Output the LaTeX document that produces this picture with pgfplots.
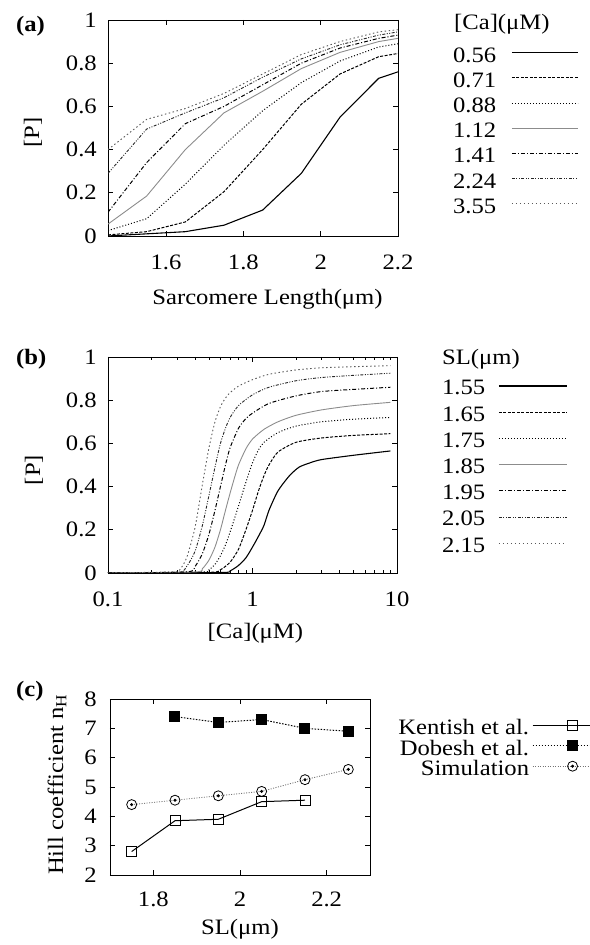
\documentclass[border=0pt]{standalone}
\usepackage{fontspec}
\setmainfont{Liberation Serif}[FakeStretch=1.12]
\usepackage{pgfplots}
\pgfplotsset{compat=1.18}
\pgfdeclareplotmark{odot}{%
  \pgfpathcircle{\pgfpointorigin}{\pgfplotmarksize}\pgfusepathqstroke
  \pgfpathcircle{\pgfpointorigin}{0.22\pgfplotmarksize}\pgfusepathqfillstroke}
\tikzset{
  s1/.style={black, line width=1.1pt},
  s2/.style={black, line width=1pt, dash pattern=on 3pt off 1.5pt},
  s3/.style={black, line width=1pt, dash pattern=on 1pt off 2pt},
  s4/.style={black!45, line width=0.9pt},
  s5/.style={black, line width=1pt, dash pattern=on 4pt off 2pt on 1pt off 2pt},
  s6/.style={black!85, line width=0.9pt, dash pattern=on 3pt off 1.5pt on 1pt off 1.5pt on 1pt off 1.5pt},
  s7/.style={black!65, line width=0.9pt, dash pattern=on 1.5pt off 2.5pt},
}
\newcommand{\fs}{\fontsize{22}{25}\selectfont}
\pgfplotsset{
  myax/.style={scale only axis, clip=true,
    axis line style={black, line width=0.8pt},
    tick style={black, line width=0.7pt},
    major tick length=5pt, minor tick length=3pt, tick align=inside,
    font=\fs, /pgf/number format/assume math mode=true,
    xticklabel style={inner sep=0pt, yshift=-19pt},
    yticklabel style={inner sep=0pt, xshift=-11pt},
    xlabel style={anchor=center},
    ylabel style={anchor=center},
  },
}
\begin{document}
\begin{tikzpicture}[x=1pt,y=1pt]
\useasboundingbox (0,0) rectangle (589,945);
% ---------- (a)
\begin{axis}[myax, at={(108pt,709pt)}, anchor=south west, width=290pt, height=216pt,
  xmin=1.45, xmax=2.2, ymin=0, ymax=1,
  xtick={1.6,1.8,2,2.2}, xticklabels={1.6,1.8,2,2.2},
  ytick={0,0.2,0.4,0.6,0.8,1}, yticklabels={0,0.2,0.4,0.6,0.8,1},
  xlabel={Sarcomere Length(μm)}, ylabel={[P]},
  xlabel style={at={(axis description cs:0.55,0)}, yshift=-63pt},
  ylabel style={at={(axis description cs:-0.259,0.48)}},
  legend style={at={(rel axis cs:1.19,0.884)}, anchor=north west, draw=none, fill=none,
    inner sep=0pt, outer sep=0pt, row sep=0pt, column sep=15pt, font=\fs,
    nodes={inner sep=0pt, outer sep=0pt, text height=17pt, text depth=8.2pt}},
  legend cell align=left, legend plot pos=right,
  legend image code/.code={\draw[#1] (0pt,5pt) -- (66pt,5pt);},
]
\addplot[s1] coordinates {(1.45,0.0) (1.55,0.01) (1.65,0.02) (1.75,0.05) (1.85,0.12) (1.95,0.29) (2.05,0.55) (2.15,0.73) (2.2,0.76)};
\addlegendentry{0.56}
\addplot[s2] coordinates {(1.45,0.005) (1.55,0.02) (1.65,0.065) (1.75,0.205) (1.85,0.40) (1.95,0.61) (2.05,0.75) (2.15,0.83) (2.2,0.845)};
\addlegendentry{0.71}
\addplot[s3] coordinates {(1.45,0.025) (1.55,0.08) (1.65,0.24) (1.75,0.42) (1.85,0.58) (1.95,0.71) (2.05,0.81) (2.15,0.875) (2.2,0.89)};
\addlegendentry{0.88}
\addplot[s4] coordinates {(1.45,0.055) (1.55,0.185) (1.65,0.40) (1.75,0.57) (1.85,0.67) (1.95,0.775) (2.05,0.85) (2.15,0.90) (2.2,0.915)};
\addlegendentry{1.12}
\addplot[s5] coordinates {(1.45,0.11) (1.55,0.34) (1.65,0.52) (1.75,0.60) (1.85,0.70) (1.95,0.80) (2.05,0.87) (2.15,0.915) (2.2,0.93)};
\addlegendentry{1.41}
\addplot[s6] coordinates {(1.45,0.29) (1.55,0.495) (1.65,0.57) (1.75,0.64) (1.85,0.735) (1.95,0.82) (2.05,0.885) (2.15,0.93) (2.2,0.945)};
\addlegendentry{2.24}
\addplot[s7] coordinates {(1.45,0.40) (1.55,0.54) (1.65,0.59) (1.75,0.66) (1.85,0.75) (1.95,0.84) (2.05,0.90) (2.15,0.945) (2.2,0.955)};
\addlegendentry{3.55}
\end{axis}
% ---------- (b)
\begin{axis}[myax, at={(108pt,372pt)}, anchor=south west, width=289pt, height=216pt,
  xmode=log, xmin=0.1, xmax=10, ymin=0, ymax=1,
  xtick={0.1,1,10}, xticklabels={0.1,1,10},
  ytick={0,0.2,0.4,0.6,0.8,1}, yticklabels={0,0.2,0.4,0.6,0.8,1},
  xlabel={[Ca](μM)}, ylabel={[P]},
  xlabel style={at={(axis description cs:0.51,0)}, yshift=-60pt},
  ylabel style={at={(axis description cs:-0.256,0.477)}},
  legend style={at={(rel axis cs:1.156,0.903)}, anchor=north west, draw=none, fill=none,
    inner sep=0pt, outer sep=0pt, row sep=0pt, column sep=13pt, font=\fs,
    nodes={inner sep=0pt, outer sep=0pt, text height=17pt, text depth=9.2pt}},
  legend cell align=left, legend plot pos=right,
  legend image code/.code={\draw[#1] (0pt,5pt) -- (68pt,5pt);},
]
\addplot[s1, smooth, tension=0.4] coordinates {(0.1,0) (0.6,0.002) (0.7,0.01) (0.8,0.035) (0.9,0.07) (1,0.12) (1.1,0.17) (1.2,0.22) (1.3,0.29) (1.5,0.38) (1.8,0.45) (2.1,0.49) (2.5,0.51) (3,0.525) (5,0.545) (9,0.565)};
\addlegendentry{1.55}
\addplot[s2, smooth, tension=0.4] coordinates {(0.1,0) (0.5,0.003) (0.6,0.015) (0.7,0.05) (0.8,0.11) (0.9,0.20) (1,0.29) (1.1,0.38) (1.2,0.45) (1.3,0.50) (1.5,0.56) (2,0.605) (3,0.625) (5,0.637) (9,0.645)};
\addlegendentry{1.65}
\addplot[s3, smooth, tension=0.4] coordinates {(0.1,0) (0.45,0.005) (0.5,0.015) (0.55,0.04) (0.6,0.08) (0.65,0.13) (0.7,0.19) (0.8,0.31) (0.9,0.42) (1,0.51) (1.1,0.57) (1.2,0.605) (1.5,0.65) (2,0.68) (3,0.70) (5,0.712) (9,0.72)};
\addlegendentry{1.75}
\addplot[s4, smooth, tension=0.4] coordinates {(0.1,0) (0.4,0.005) (0.45,0.02) (0.5,0.06) (0.55,0.12) (0.6,0.20) (0.65,0.29) (0.7,0.37) (0.75,0.44) (0.8,0.50) (0.9,0.575) (1,0.62) (1.2,0.665) (1.5,0.70) (2,0.73) (3,0.755) (5,0.775) (9,0.79)};
\addlegendentry{1.85}
\addplot[s5, smooth, tension=0.4] coordinates {(0.1,0) (0.35,0.005) (0.4,0.03) (0.45,0.09) (0.5,0.18) (0.55,0.29) (0.6,0.40) (0.65,0.50) (0.7,0.58) (0.8,0.67) (0.9,0.715) (1,0.74) (1.3,0.785) (2,0.82) (3,0.84) (5,0.85) (9,0.86)};
\addlegendentry{1.95}
\addplot[s6, smooth, tension=0.4] coordinates {(0.1,0) (0.3,0.003) (0.35,0.03) (0.4,0.10) (0.45,0.22) (0.5,0.36) (0.55,0.49) (0.6,0.60) (0.65,0.67) (0.7,0.72) (0.8,0.775) (1,0.825) (1.3,0.86) (2,0.89) (3,0.905) (5,0.915) (9,0.925)};
\addlegendentry{2.05}
\addplot[s7, smooth, tension=0.4] coordinates {(0.1,0) (0.28,0.005) (0.31,0.01) (0.35,0.07) (0.4,0.21) (0.45,0.41) (0.5,0.58) (0.55,0.70) (0.6,0.77) (0.65,0.81) (0.7,0.835) (0.8,0.865) (1,0.895) (1.3,0.92) (2,0.94) (3,0.95) (5,0.955) (9,0.96)};
\addlegendentry{2.15}
\end{axis}
% ---------- (c)
\begin{axis}[myax, at={(110pt,70pt)}, anchor=south west, width=260pt, height=176pt,
  xmin=1.7, xmax=2.3, ymin=2, ymax=8,
  xtick={1.8,2,2.2}, xticklabels={1.8,2,2.2},
  ytick={2,3,4,5,6,7,8}, yticklabels={2,3,4,5,6,7,8},
  xticklabel style={yshift=2pt},
  yticklabel style={xshift=-2pt},
  xlabel={SL(μm)}, ylabel={Hill coefficient n$_\mathrm{H}$},
  xlabel style={at={(axis description cs:0.5,0)}, yshift=-54pt},
  ylabel style={at={(axis description cs:-0.204,0.51)}},
  legend style={at={(rel axis cs:1.935,0.881)}, anchor=north east, draw=none, fill=none,
    inner sep=0pt, outer sep=0pt, row sep=0pt, column sep=3pt, font=\fs,
    nodes={inner sep=0pt, outer sep=0pt, text height=15pt, text depth=5.5pt}},
  legend cell align=right, legend plot pos=right,
  legend image code/.code={\draw[mark repeat=2,mark phase=2,#1] plot coordinates {(0pt,5pt) (40pt,5pt) (80pt,5pt)};},
]
\addplot[black, line width=1pt, mark=square, mark size=5pt, mark options={solid, fill=white, line width=0.9pt}]
  coordinates {(1.75,2.8) (1.85,3.85) (1.95,3.9) (2.05,4.5) (2.15,4.55)};
\addlegendentry{Kentish et al.}
\addplot[black, line width=1pt, dash pattern=on 1.5pt off 1.5pt, mark=square*, mark size=5pt, mark options={solid, fill=black}]
  coordinates {(1.85,7.4) (1.95,7.2) (2.05,7.3) (2.15,7.0) (2.25,6.9)};
\addlegendentry{Dobesh et al.}
\addplot[black!55, line width=0.9pt, dash pattern=on 1pt off 1.5pt, mark=odot, mark size=5pt, mark options={solid, draw=black, fill=black, line width=0.8pt}]
  coordinates {(1.75,4.4) (1.85,4.55) (1.95,4.7) (2.05,4.85) (2.15,5.25) (2.25,5.6)};
\addlegendentry{Simulation}
\end{axis}
% panel labels and legend titles
\node[anchor=base west, font=\bfseries\fs, inner sep=0pt] at (16,913) {(a)};
\node[anchor=base west, font=\bfseries\fs, inner sep=0pt] at (16,580) {(b)};
\node[anchor=base west, font=\bfseries\fs, inner sep=0pt] at (16,248) {(c)};
\node[anchor=base west, font=\fs, inner sep=0pt] at (454,915) {[Ca](μM)};
\node[anchor=base west, font=\fs, inner sep=0pt] at (442,580) {SL(μm)};
\end{tikzpicture}
\end{document}
